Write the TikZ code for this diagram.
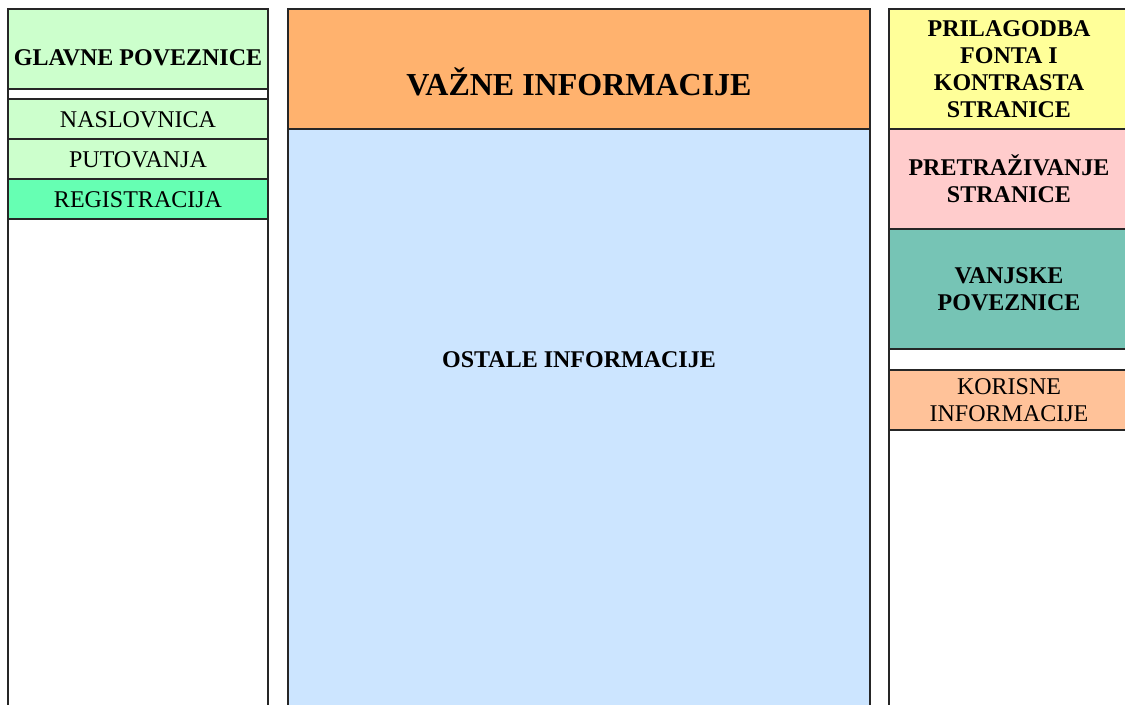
\documentclass[tikz,border=0pt]{standalone}
\usepackage{fontspec}
\setmainfont{Liberation Serif}
\usetikzlibrary{positioning}
\definecolor{svjetlozelena}{HTML}{CCFFCC}
\definecolor{mentol}{HTML}{66FFB3}
\definecolor{narancasta}{HTML}{FFB26E}
\definecolor{svjetloplava}{HTML}{CCE5FF}
\definecolor{zuta}{HTML}{FFFF99}
\definecolor{ruzicasta}{HTML}{FFCCCC}
\definecolor{tirkizna}{HTML}{76C4B5}
\definecolor{breskva}{HTML}{FFC299}
\def\u{0.75pt}
\tikzstyle{okvir}=[draw=black!85, line width=1.4pt, inner sep=0pt,
    outer sep=0pt, anchor=north west]
\tikzstyle{stupac}=[okvir, minimum height=730*\u]
\tikzstyle{naslov}=[font=\fontsize{18}{20.25}\selectfont\bfseries,
    align=center]
\tikzstyle{stavka}=[font=\fontsize{18}{20.25}\selectfont, align=center]
\tikzstyle{lijevi} = [okvir, minimum width=260*\u, minimum height=40*\u,
    fill=svjetlozelena, stavka, text height=12pt, text depth=0pt]
\tikzstyle{desni} = [okvir, minimum width=240*\u, naslov]

\begin{document}
\begin{tikzpicture}[x=\u, y=-\u]
    \useasboundingbox (0,0) rectangle (1125,704);
    \clip (0,0) rectangle (1125,704);
    % stupci
    \node (lijevo) [stupac, minimum width=260*\u] at (8,9) {};
    \node (sredina) [stupac, minimum width=582*\u, fill=svjetloplava] at (288,9) {};
    \node (desno) [stupac, minimum width=240*\u] at (889,9) {};
    % lijevi stupac
    \node (glavne) [okvir, minimum width=260*\u, minimum height=80*\u,
        fill=svjetlozelena] at (8,9) {};
    \path (glavne.center)+(0,8.5) node (tglavne) [naslov] {GLAVNE POVEZNICE};
    \node (naslovnica) [lijevi, below=7.5pt of glavne] {NASLOVNICA};
    \node (putovanja) [lijevi, below=0pt of naslovnica] {PUTOVANJA};
    \node (registracija) [lijevi, fill=mentol,
        below=0pt of putovanja] {REGISTRACIJA};
    % srednji stupac
    \node (vazne) [okvir, minimum width=582*\u, minimum height=120*\u,
        fill=narancasta] at (288,9) {};
    \path (vazne.center)+(0,13) node (tvazne)
        [font=\fontsize{24}{27}\selectfont\bfseries] {VAŽNE INFORMACIJE};
    \path (sredina.north)+(0,351) node (ostale) [naslov] {OSTALE INFORMACIJE};
    % desni stupac
    \node (prilagodba) [desni, minimum height=120*\u, fill=zuta] at (889,9)
        {PRILAGODBA\\FONTA I\\KONTRASTA\\STRANICE};
    \node (pretrazivanje) [desni, minimum height=100*\u, fill=ruzicasta,
        below=0pt of prilagodba] {PRETRAŽIVANJE\\STRANICE};
    \node (vanjske) [desni, minimum height=120*\u, fill=tirkizna,
        below=0pt of pretrazivanje] {VANJSKE\\POVEZNICE};
    \node (korisne) [desni, minimum height=60*\u, fill=breskva, stavka,
        below=15.75pt of vanjske] {KORISNE\\INFORMACIJE};
\end{tikzpicture}
\end{document}
